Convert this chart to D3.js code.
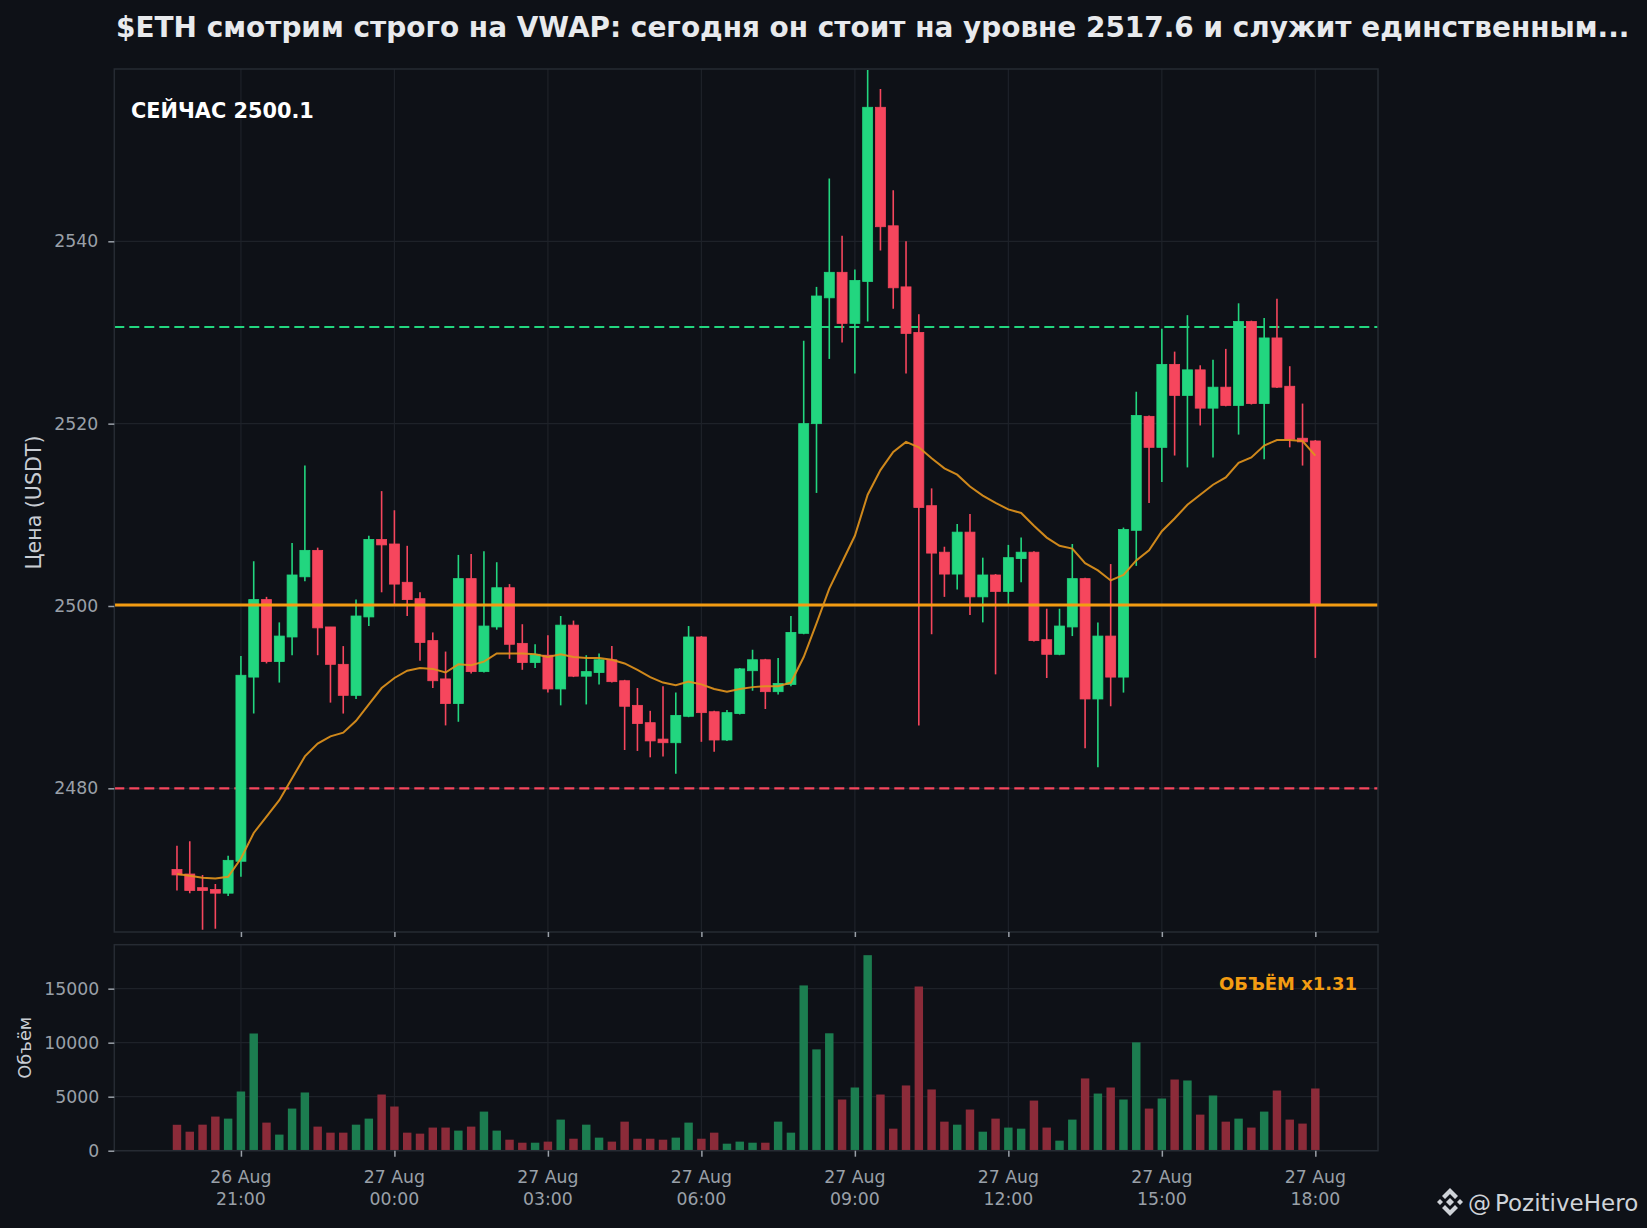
<!DOCTYPE html>
<html><head><meta charset="utf-8">
<script src="https://cdn.jsdelivr.net/npm/d3@7/dist/d3.min.js"></script>
<style>
html,body{margin:0;padding:0;background:#0e1117;}
svg{display:block;font-family:"DejaVu Sans",sans-serif;}
</style></head><body>
<svg id="c" width="1647" height="1228"></svg>
<script>
// ---------- DATA ----------
const times = [
"08-26 19:45","08-26 20:00","08-26 20:15","08-26 20:30","08-26 20:45",
"08-26 21:00","08-26 21:15","08-26 21:30","08-26 21:45","08-26 22:00","08-26 22:15","08-26 22:30","08-26 22:45",
"08-26 23:00","08-26 23:15","08-26 23:30","08-26 23:45","08-27 00:00","08-27 00:15","08-27 00:30","08-27 00:45",
"08-27 01:00","08-27 01:15","08-27 01:30","08-27 01:45","08-27 02:00","08-27 02:15","08-27 02:30","08-27 02:45",
"08-27 03:00","08-27 03:15","08-27 03:30","08-27 03:45","08-27 04:00","08-27 04:15","08-27 04:30","08-27 04:45",
"08-27 05:00","08-27 05:15","08-27 05:30","08-27 05:45","08-27 06:00","08-27 06:15","08-27 06:30","08-27 06:45",
"08-27 07:00","08-27 07:15","08-27 07:30","08-27 07:45","08-27 08:00","08-27 08:15","08-27 08:30","08-27 08:45",
"08-27 09:00","08-27 09:15","08-27 09:30","08-27 09:45","08-27 10:00","08-27 10:15","08-27 10:30","08-27 10:45",
"08-27 11:00","08-27 11:15","08-27 11:30","08-27 11:45","08-27 12:00","08-27 12:15","08-27 12:30","08-27 12:45",
"08-27 13:00","08-27 13:15","08-27 13:30","08-27 13:45","08-27 14:00","08-27 14:15","08-27 14:30","08-27 14:45",
"08-27 15:00","08-27 15:15","08-27 15:30","08-27 15:45","08-27 16:00","08-27 16:15","08-27 16:30","08-27 16:45",
"08-27 17:00","08-27 17:15","08-27 17:30","08-27 17:45","08-27 18:00"];

const opens = [2471.1,2470.6,2469.1,2468.9,2468.5,
2472.0,2492.2,2500.7,2493.9,2496.6,2503.2,2506.1,2497.7,
2493.6,2490.2,2498.8,2507.3,2506.8,2502.6,2500.8,2496.2,
2492.0,2489.3,2503.0,2492.8,2497.7,2502.0,2495.9,2493.8,
2494.6,2490.9,2497.9,2492.3,2492.7,2494.1,2491.8,2489.1,
2487.2,2485.4,2485.0,2487.9,2496.6,2488.4,2485.3,2488.2,
2492.9,2494.1,2490.6,2491.4,2497.0,2520.0,2533.8,2536.6,
2531.0,2535.6,2554.7,2541.7,2535.0,2530.0,2511.0,2505.9,
2503.5,2508.1,2501.0,2503.4,2501.6,2505.2,2505.9,2496.3,
2494.7,2497.7,2503.0,2489.8,2496.7,2492.2,2508.3,2520.8,
2517.4,2526.5,2523.1,2525.9,2521.7,2524.0,2522.0,2531.2,
2522.2,2529.4,2524.1,2518.4,2518.1];

const highs = [2473.7,2474.2,2470.5,2469.5,2472.6,
2494.5,2504.9,2501.0,2498.2,2506.9,2515.4,2506.4,2497.7,
2495.6,2500.7,2507.7,2512.6,2510.5,2506.6,2501.5,2497.1,
2495.0,2505.6,2505.7,2506.0,2504.8,2502.4,2498.0,2495.8,
2496.8,2498.9,2498.4,2494.6,2494.8,2495.6,2491.9,2491.0,
2488.5,2491.2,2490.5,2497.8,2496.7,2488.5,2488.6,2493.2,
2495.2,2494.2,2494.3,2498.9,2529.1,2535.0,2546.9,2540.6,
2536.9,2558.8,2556.7,2545.6,2540.0,2532.0,2512.9,2506.5,
2509.0,2510.1,2505.3,2503.5,2506.7,2507.5,2506.0,2499.7,
2499.7,2506.8,2503.1,2498.2,2504.6,2508.6,2523.5,2520.9,
2530.4,2527.9,2531.9,2526.4,2527.0,2528.2,2533.2,2531.3,
2531.6,2533.7,2526.3,2522.2,2518.2];

const lows = [2468.8,2468.5,2464.5,2464.6,2468.2,
2470.3,2488.2,2493.7,2491.6,2494.6,2502.7,2494.6,2489.4,
2488.2,2489.8,2497.8,2501.5,2500.1,2498.9,2494.0,2491.0,
2486.9,2487.3,2492.6,2492.7,2497.4,2494.2,2493.0,2493.2,
2490.5,2489.1,2492.2,2489.2,2491.4,2491.6,2484.2,2484.1,
2483.4,2483.5,2481.6,2487.8,2485.1,2484.0,2485.2,2488.1,
2490.7,2488.7,2490.3,2491.2,2496.9,2512.4,2527.1,2528.9,
2525.5,2531.2,2539.0,2532.6,2525.5,2486.9,2496.9,2501.0,
2501.8,2499.0,2498.2,2492.5,2500.1,2502.6,2496.1,2492.1,
2494.6,2496.7,2484.4,2482.3,2489.0,2490.5,2504.4,2511.3,
2513.6,2516.5,2515.2,2519.8,2516.3,2521.9,2518.8,2522.1,
2516.1,2523.9,2517.4,2515.4,2494.3];

const closes = [2470.5,2468.8,2468.8,2468.5,2472.1,
2492.4,2500.7,2493.9,2496.7,2503.4,2506.1,2497.6,2493.6,
2490.2,2498.9,2507.3,2506.7,2502.4,2500.7,2496.0,2491.8,
2489.3,2503.0,2492.8,2497.8,2502.0,2495.8,2493.8,2494.7,
2490.9,2497.9,2492.3,2492.8,2494.1,2491.7,2489.0,2487.1,
2485.2,2485.0,2488.0,2496.6,2488.3,2485.3,2488.3,2493.1,
2494.1,2490.6,2491.5,2497.1,2520.0,2534.0,2536.6,2531.0,
2535.7,2554.7,2541.6,2534.9,2529.9,2510.8,2505.8,2503.5,
2508.1,2501.0,2503.4,2501.6,2505.3,2505.9,2496.2,2494.7,
2497.8,2503.0,2489.8,2496.7,2492.2,2508.4,2520.9,2517.4,
2526.5,2523.1,2525.9,2521.7,2524.0,2522.0,2531.2,2522.2,
2529.4,2524.0,2518.3,2518.0,2500.1];

const volumes = [2400,1760,2410,3160,2970,
5480,10850,2600,1490,3900,5390,2230,1670,
1670,2410,2970,5200,4090,1670,1580,2140,
2140,1860,2230,3620,1860,1020,740,740,
840,2880,1110,2410,1210,840,2690,1110,
1110,1020,1210,2600,1110,1670,650,840,
740,740,2690,1670,15300,9380,10870,4740,
5850,18100,5200,2040,6040,15200,5670,2690,
2410,3810,1760,2970,2140,2040,4640,2140,
930,2880,6690,5290,5850,4740,10030,3900,
4830,6590,6500,3340,5110,2690,2970,2140,
3620,5570,2880,2510,5760];

const vwap = [2470.6,2470.4,2470.2,2470.1,2470.3,
2472.3,2475.1,2476.9,2478.7,2481.1,2483.5,2484.9,2485.7,
2486.1,2487.4,2489.2,2491.0,2492.1,2492.9,2493.2,2493.1,
2492.7,2493.6,2493.5,2493.9,2494.8,2494.8,2494.8,2494.7,
2494.4,2494.7,2494.4,2494.3,2494.3,2494.1,2493.7,2493.0,
2492.2,2491.6,2491.3,2491.7,2491.4,2490.9,2490.6,2490.9,
2491.1,2491.2,2491.2,2491.6,2494.4,2498.1,2501.9,2504.8,
2507.7,2512.2,2514.9,2516.9,2518.0,2517.4,2516.2,2515.1,
2514.4,2513.1,2512.1,2511.3,2510.6,2510.2,2508.8,2507.5,
2506.6,2506.3,2504.7,2503.9,2502.8,2503.4,2505.0,2506.1,
2508.2,2509.6,2511.1,2512.2,2513.3,2514.1,2515.7,2516.3,
2517.6,2518.2,2518.2,2518.1,2516.5];

const priceTicks = [2480, 2500, 2520, 2540];
const volumeTicks = [0, 5000, 10000, 15000];
const timeTicks = ["08-26 21:00","08-27 00:00","08-27 03:00","08-27 06:00","08-27 09:00","08-27 12:00","08-27 15:00","08-27 18:00"];
const tickDayLabels = ["26 Aug","27 Aug","27 Aug","27 Aug","27 Aug","27 Aug","27 Aug","27 Aug"];
const tickTimeLabels = ["21:00","00:00","03:00","06:00","09:00","12:00","15:00","18:00"];
const resistanceLevel = 2530.6;
const supportLevel = 2480.0;
const lastPrice = 2500.1;
const titleText = "$ETH смотрим строго на VWAP: сегодня он стоит на уровне 2517.6 и служит единственным...";
const nowLabel = "СЕЙЧАС 2500.1";
const volumeLabel = "ОБЪЁМ x1.31";
const handleAt = "@";
const handleName = "PozitiveHero";

// ---------- SETUP ----------
const parse = d3.timeParse("%m-%d %H:%M");
const candles = times.map((t,i)=>({t:parse(t),o:opens[i],h:highs[i],l:lows[i],c:closes[i],v:volumes[i],w:vwap[i]}));
const svg = d3.select("#c");
const W = 1647, H = 1228;
const C = {bg:"#0e1117", grid:"#1e2229", border:"#262b33", up:"#22d67f", down:"#f6465d",
  upVol:"#1c7d50", downVol:"#8b2b39", orange:"#f39c12", text:"#e8eaed", tick:"#9aa0a8"};
svg.append("rect").attr("width",W).attr("height",H).attr("fill",C.bg);

const P = {left:114.3, right:1378, top:69, bottom:932};
const V = {top:944.7, bottom:1150.7};
const step = 15*60*1000;
const t0 = candles[0].t.getTime();
const x = d3.scaleTime()
  .domain([new Date(t0 - 4.9*step), new Date(candles[candles.length-1].t.getTime() + 4.9*step)])
  .range([P.left, P.right]);
const y = d3.scaleLinear().domain([2464.24, 2558.9]).range([P.bottom, P.top]);
const yv = d3.scaleLinear().domain([0, 19070]).range([V.bottom, V.top]);
const bw = (x(new Date(t0+step)) - x(new Date(t0)));

function fitText(sel, target){
  const fs = +sel.attr("font-size");
  const l = sel.node().getComputedTextLength();
  sel.attr("font-size", fs*target/l);
}

const defs = svg.append("defs");
defs.append("clipPath").attr("id","pclip").append("rect")
  .attr("x",P.left).attr("y",P.top).attr("width",P.right-P.left).attr("height",P.bottom-P.top);

// grids
const tickDates = timeTicks.map(parse);
function vgrid(top,bottom){
  svg.append("g").selectAll("line").data(tickDates).join("line")
    .attr("x1",d=>x(d)).attr("x2",d=>x(d)).attr("y1",top).attr("y2",bottom)
    .attr("stroke",C.grid).attr("stroke-width",1.2);
}
vgrid(P.top,P.bottom); vgrid(V.top,V.bottom);
svg.append("g").selectAll("line").data(priceTicks).join("line")
  .attr("x1",P.left).attr("x2",P.right).attr("y1",d=>y(d)).attr("y2",d=>y(d))
  .attr("stroke",C.grid).attr("stroke-width",1.2);
svg.append("g").selectAll("line").data(volumeTicks).join("line")
  .attr("x1",P.left).attr("x2",P.right).attr("y1",d=>yv(d)).attr("y2",d=>yv(d))
  .attr("stroke",C.grid).attr("stroke-width",1.2);

// watermark in panel
svg.append("text").attr("clip-path","url(#pclip)")
  .attr("transform","translate(651,600) rotate(-30)")
  .attr("text-anchor","middle").attr("dominant-baseline","middle")
  .attr("font-size",66).attr("fill","#ffffff").attr("fill-opacity",0.04)
  .text("PozitiveHero");

// horizontal levels
const pg = svg.append("g").attr("clip-path","url(#pclip)");
pg.append("line").attr("x1",P.left).attr("x2",P.right).attr("y1",y(resistanceLevel)).attr("y2",y(resistanceLevel))
  .attr("stroke",C.up).attr("stroke-width",2.2).attr("stroke-dasharray","10,5");
pg.append("line").attr("x1",P.left).attr("x2",P.right).attr("y1",y(supportLevel)).attr("y2",y(supportLevel))
  .attr("stroke",C.down).attr("stroke-width",2.2).attr("stroke-dasharray","10,5");

// candles
const cg = pg.append("g");
const col = d => d.c >= d.o ? C.up : C.down;
cg.selectAll("line.wick").data(candles).join("line").attr("class","wick")
  .attr("x1",d=>x(d.t)).attr("x2",d=>x(d.t)).attr("y1",d=>y(d.h)).attr("y2",d=>y(d.l))
  .attr("stroke",col).attr("stroke-width",1.6);
cg.selectAll("rect.body").data(candles).join("rect").attr("class","body")
  .attr("x",d=>x(d.t)-bw*0.39).attr("width",bw*0.78)
  .attr("y",d=>y(Math.max(d.o,d.c)))
  .attr("height",d=>Math.max(1.2, Math.abs(y(d.o)-y(d.c))))
  .attr("fill",col).attr("stroke",col).attr("stroke-width",0.8);

// last price line
pg.append("line").attr("x1",P.left).attr("x2",P.right).attr("y1",y(lastPrice)).attr("y2",y(lastPrice))
  .attr("stroke",C.orange).attr("stroke-width",3);
// vwap line
pg.append("path").datum(candles)
  .attr("d", d3.line().x(d=>x(d.t)).y(d=>y(d.w)))
  .attr("fill","none").attr("stroke","#e0921c").attr("stroke-opacity",0.92).attr("stroke-width",2);

// volume bars
svg.append("g").selectAll("rect").data(candles).join("rect")
  .attr("x",d=>x(d.t)-bw*0.33).attr("width",bw*0.66)
  .attr("y",d=>yv(d.v)).attr("height",d=>yv(0)-yv(d.v))
  .attr("fill",d=>d.c>=d.o?C.upVol:C.downVol);

// panel borders
[[P.top,P.bottom],[V.top,V.bottom]].forEach(([t,b])=>{
  svg.append("rect").attr("x",P.left).attr("y",t).attr("width",P.right-P.left).attr("height",b-t)
    .attr("fill","none").attr("stroke",C.border).attr("stroke-width",1.5);
});

// y axes
const yAx = svg.append("g").attr("transform",`translate(${P.left},0)`)
  .call(d3.axisLeft(y).tickValues(priceTicks).tickFormat(d3.format("d")).tickSize(6).tickPadding(10));
const yvAx = svg.append("g").attr("transform",`translate(${P.left},0)`)
  .call(d3.axisLeft(yv).tickValues(volumeTicks).tickFormat(d3.format("d")).tickSize(6).tickPadding(9));
// x ticks
const xAxP = svg.append("g").attr("transform",`translate(0,${P.bottom})`)
  .call(d3.axisBottom(x).tickValues(tickDates).tickFormat("").tickSize(5));
const xAx = svg.append("g").attr("transform",`translate(0,${V.bottom})`)
  .call(d3.axisBottom(x).tickValues(tickDates).tickFormat("").tickSize(6));
[yAx,yvAx,xAxP,xAx].forEach(a=>{
  a.select(".domain").remove();
  a.selectAll(".tick line").attr("stroke",C.tick).attr("stroke-width",1.5);
  a.selectAll("text").attr("fill",C.tick).attr("font-size",17.3).attr("font-family","DejaVu Sans");
});
// two-line x labels
const xl = svg.append("g");
tickDates.forEach((d,i)=>{
  xl.append("text").attr("x",x(d)).attr("y",1183).attr("text-anchor","middle")
    .attr("fill",C.tick).attr("font-size",17.3).text(tickDayLabels[i]);
  xl.append("text").attr("x",x(d)).attr("y",1205).attr("text-anchor","middle")
    .attr("fill",C.tick).attr("font-size",17.3).text(tickTimeLabels[i]);
});

// axis titles
const yt = svg.append("text").attr("transform",`translate(41,${(P.top+P.bottom)/2+2}) rotate(-90)`)
  .attr("text-anchor","middle").attr("fill","#c9cdd3").attr("font-size",19).text("Цена (USDT)");
fitText(yt, 134);
const vt = svg.append("text").attr("transform",`translate(31,${(V.top+V.bottom)/2}) rotate(-90)`)
  .attr("text-anchor","middle").attr("fill","#c9cdd3").attr("font-size",16).text("Объём");
fitText(vt, 62);

// title
const title = svg.append("text").attr("x",116).attr("y",37).attr("fill",C.text)
  .attr("font-weight","bold").attr("font-size",26).text(titleText);
fitText(title, 1514);

// labels
const nl = svg.append("text").attr("x",131).attr("y",118).attr("fill","#ffffff").attr("font-weight","bold")
  .attr("font-size",19).text(nowLabel);
fitText(nl, 183);
const vl = svg.append("text").attr("x",1357).attr("y",990).attr("text-anchor","end").attr("fill",C.orange)
  .attr("font-weight","bold").attr("font-size",17).text(volumeLabel);
fitText(vl, 138);

// bottom-right handle with logo
const lg = svg.append("g").attr("transform","translate(1450,1202)").attr("fill","#cfd3d8");
lg.append("path").attr("d","M0,-4 L4,0 L0,4 L-4,0 Z");
lg.append("path").attr("d","M-10,-3 L-7,0 L-10,3 L-13,0 Z");
lg.append("path").attr("d","M10,-3 L13,0 L10,3 L7,0 Z");
lg.append("path").attr("d","M0,-14 L8,-6 L5,-3 L0,-8 L-5,-3 L-8,-6 Z");
lg.append("path").attr("d","M0,14 L8,6 L5,3 L0,8 L-5,3 L-8,6 Z");
const ht = svg.append("text").attr("x",1468).attr("y",1211).attr("fill","#cfd3d8").attr("font-size",23);
ht.append("tspan").text(handleAt);
ht.append("tspan").attr("dx",4).text(handleName);
</script>
</body></html>
